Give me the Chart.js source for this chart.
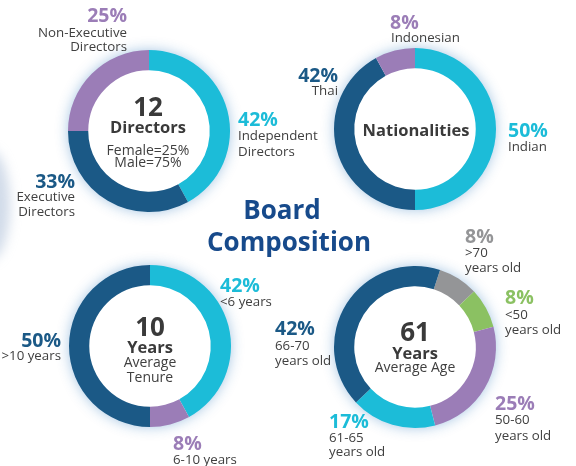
<!DOCTYPE html>
<html>
<head>
<meta charset="utf-8">
<script src="https://cdn.jsdelivr.net/npm/chart.js@4.4.0/dist/chart.umd.min.js"></script>
<style>
  html, body { margin: 0; padding: 0; background: #fff; }
  #page { position: relative; width: 576px; height: 466px; overflow: hidden; font-family: "Open Sans", "Noto Sans", sans-serif; color: #404040; }
  .donut { position: absolute; width: 200px; height: 200px; }
  .t { position: absolute; white-space: nowrap; line-height: 1; }
  .pct { font-weight: 700; font-size: 19.5px; }
  .lbl { font-size: 13.3px; color: #404040; }
  .c { transform: translate(-50%, -50%); text-align: center; }
  .l { transform: translate(0, -50%); }
  .r { transform: translate(-100%, -50%); text-align: right; }
  .big { font-weight: 700; font-size: 26px; color: #3a3a3a; }
  .mid { font-weight: 700; font-size: 16.5px; color: #3a3a3a; }
  .sub { font-size: 14px; color: #404040; }
  .title { font-weight: 700; font-size: 26px; color: #174a8b; }
  #edge { position: absolute; left: -30px; top: 150px; width: 40px; height: 110px; border-radius: 50%;
          background: rgba(140,165,200,0.4); filter: blur(6px); }
</style>
</head>
<body>
<div id="page">
  <div id="edge"></div>
  <div class="donut" style="left:49px;top:31px"><canvas id="c1"></canvas></div>
  <div class="donut" style="left:315px;top:29px"><canvas id="c2"></canvas></div>
  <div class="donut" style="left:50px;top:246px"><canvas id="c3"></canvas></div>
  <div class="donut" style="left:315px;top:247px"><canvas id="c4"></canvas></div>
  <div id="texts"></div>
</div>
<script>
(function () {
	'use strict';

	// colours used by the segments
	const CYAN   = '#1cbcd8';
	const NAVY   = '#1b5986';
	const PURPLE = '#9b7db7';
	const GREY   = '#949597';
	const GREEN  = '#8bc162';

	// Directors
	const directorLabels = ['Independent Directors', 'Executive Directors', 'Non-Executive Directors'];
	const directorValues = [42, 33, 25];
	const directorColors = [CYAN, NAVY, PURPLE];

	// Nationalities
	const nationLabels = ['Indian', 'Thai', 'Indonesian'];
	const nationValues = [50, 42, 8];
	const nationColors = [CYAN, NAVY, PURPLE];

	// Tenure
	const tenureLabels = ['<6 years', '6-10 years', '>10 years'];
	const tenureValues = [42, 8, 50];
	const tenureColors = [CYAN, PURPLE, NAVY];

	// Age
	const ageLabels = ['>70 years old', '<50 years old', '50-60 years old', '61-65 years old', '66-70 years old'];
	const ageValues = [8, 8, 25, 17, 42];
	const ageColors = [GREY, GREEN, PURPLE, CYAN, NAVY];

	// soft blue halo behind each ring
	const glow = {
		id: 'glow',
		beforeDatasetsDraw(chart) {
			const arc = chart.getDatasetMeta(0).data[0];
			if (!arc) return;
			const ctx = chart.ctx;
			ctx.save();
			ctx.shadowColor = 'rgba(30,110,185,0.45)';
			ctx.shadowBlur = 14;
			ctx.fillStyle = '#ffffff';
			ctx.beginPath();
			ctx.arc(arc.x, arc.y, arc.outerRadius - 1, 0, Math.PI * 2);
			ctx.fill();
			ctx.restore();
		}
	};

	function makeDonut(id, labels, values, colors, rotation) {
		const ctx = document.getElementById(id).getContext('2d');
		return new Chart(ctx, {
			type: 'doughnut',
			data: {
				labels: labels,
				datasets: [{
					data: values,
					backgroundColor: colors,
					borderWidth: 0,
					hoverOffset: 0
				}]
			},
			options: {
				responsive: true,
				maintainAspectRatio: false,
				animation: false,
				cutout: '75%',
				rotation: rotation,
				layout: { padding: 19 },
				plugins: {
					legend: { display: false },
					tooltip: { enabled: false }
				}
			},
			plugins: [glow]
		});
	}

	makeDonut('c1', directorLabels, directorValues, directorColors, 0);
	makeDonut('c2', nationLabels, nationValues, nationColors, 0);
	makeDonut('c3', tenureLabels, tenureValues, tenureColors, 0);
	makeDonut('c4', ageLabels, ageValues, ageColors, 18);

	// text placements: [text, x, y, classes, colour]
	const texts = [
		['12', 148, 106, 'c big'],
		['Directors', 148, 127, 'c mid'],
		['Female=25%', 148, 150, 'c sub'],
		['Male=75%', 148, 162, 'c sub'],
		['25%', 127, 15, 'r pct', PURPLE],
		['Non-Executive', 127, 33, 'r lbl'],
		['Directors', 127, 47, 'r lbl'],
		['42%', 238, 119, 'l pct', CYAN],
		['Independent', 238, 136, 'l lbl'],
		['Directors', 238, 152, 'l lbl'],
		['33%', 75, 181, 'r pct', NAVY],
		['Executive', 75, 197, 'r lbl'],
		['Directors', 75, 212, 'r lbl'],

		['Nationalities', 416, 130, 'c mid'],
		['8%', 390, 22, 'l pct', PURPLE],
		['Indonesian', 391, 38, 'l lbl'],
		['42%', 338, 75, 'r pct', NAVY],
		['Thai', 338, 91, 'r lbl'],
		['50%', 508, 130, 'l pct', CYAN],
		['Indian', 508, 147, 'l lbl'],

		['Board', 282, 209, 'c title'],
		['Composition', 289, 241, 'c title'],

		['10', 150, 326, 'c big'],
		['Years', 150, 347, 'c mid'],
		['Average', 150, 362, 'c sub'],
		['Tenure', 150, 377, 'c sub'],
		['42%', 220, 285, 'l pct', CYAN],
		['<6 years', 220, 302, 'l lbl'],
		['50%', 61, 340, 'r pct', NAVY],
		['>10 years', 61, 356, 'r lbl'],
		['8%', 173, 443, 'l pct', PURPLE],
		['6-10 years', 173, 460, 'l lbl'],

		['61', 415, 331, 'c big'],
		['Years', 415, 353, 'c mid'],
		['Average Age', 415, 367, 'c sub'],
		['8%', 465, 236, 'l pct', GREY],
		['>70', 465, 253, 'l lbl'],
		['years old', 465, 268, 'l lbl'],
		['8%', 505, 297, 'l pct', GREEN],
		['<50', 505, 315, 'l lbl'],
		['years old', 505, 330, 'l lbl'],
		['42%', 275, 328, 'l pct', NAVY],
		['66-70', 275, 346, 'l lbl'],
		['years old', 275, 361, 'l lbl'],
		['25%', 495, 403, 'l pct', PURPLE],
		['50-60', 495, 420, 'l lbl'],
		['years old', 495, 436, 'l lbl'],
		['17%', 329, 421, 'l pct', CYAN],
		['61-65', 329, 438, 'l lbl'],
		['years old', 329, 452, 'l lbl']
	];

	const holder = document.getElementById('texts');
	texts.forEach(function (t) {
		const d = document.createElement('div');
		d.className = 't ' + t[3];
		d.textContent = t[0];
		d.style.left = t[1] + 'px';
		d.style.top = t[2] + 'px';
		if (t[4]) d.style.color = t[4];
		holder.appendChild(d);
	});
})();
</script>
</body>
</html>
